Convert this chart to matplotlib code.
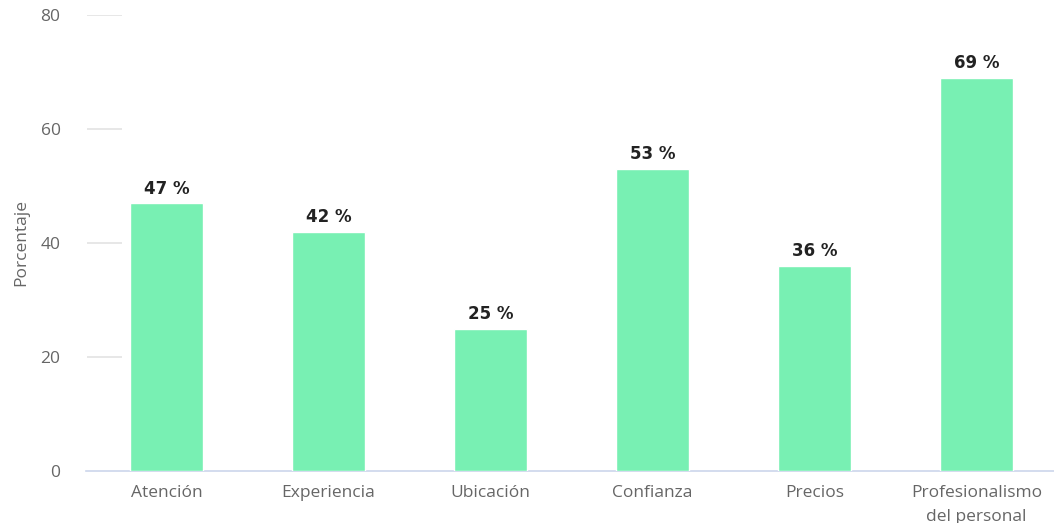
import matplotlib.pyplot as plt

# --- Datos ---
categorias = ["Atención", "Experiencia", "Ubicación", "Confianza", "Precios",
              "Profesionalismo\ndel personal"]
porcentajes = [47, 42, 25, 53, 36, 69]
yticks = [0, 20, 40, 60, 80]

fig = plt.figure(figsize=(10.54, 5.23), dpi=100)
ax = fig.add_axes([85.5 / 1054, 1 - 471 / 523, 972 / 1054, 456 / 523])

x = list(range(len(categorias)))
bars = ax.bar(x, porcentajes, width=0.45, color="#78f0b3", edgecolor="white",
              linewidth=1, zorder=3)

for b, v in zip(bars, porcentajes):
    ax.annotate(f"{v} %", (b.get_x() + b.get_width() / 2, v),
                xytext=(0, 4), textcoords="offset points", ha="center", va="bottom",
                fontsize=12, fontweight="bold", color="#222222", family="DejaVu Sans")

ax.set_xlim(-0.5, len(categorias) - 0.5)
ax.set_ylim(0, 80)

# lineas de cuadricula cortas junto al eje
ax.hlines(yticks[1:], -0.49, -0.275, color="#e3e3e3", linewidth=1.2, zorder=1)
ax.axhline(0, color="#ccd6eb", linewidth=1.2, zorder=2, clip_on=False)

for s in ax.spines.values():
    s.set_visible(False)

ax.set_yticks(yticks)
ax.set_xticks(x)
ax.set_xticklabels(categorias, family="Open Sans", fontsize=12.5, color="#666666",
                   linespacing=1.65)
ax.tick_params(axis="x", length=0, pad=10)
ax.tick_params(axis="y", length=0, pad=18, labelsize=12.5, labelcolor="#666666")
for t in ax.get_yticklabels():
    t.set_family("Open Sans")

ax.set_ylabel("Porcentaje", family="Open Sans", fontsize=12.5, color="#666666",
              labelpad=8)

fig.savefig("out.png", dpi=100)
